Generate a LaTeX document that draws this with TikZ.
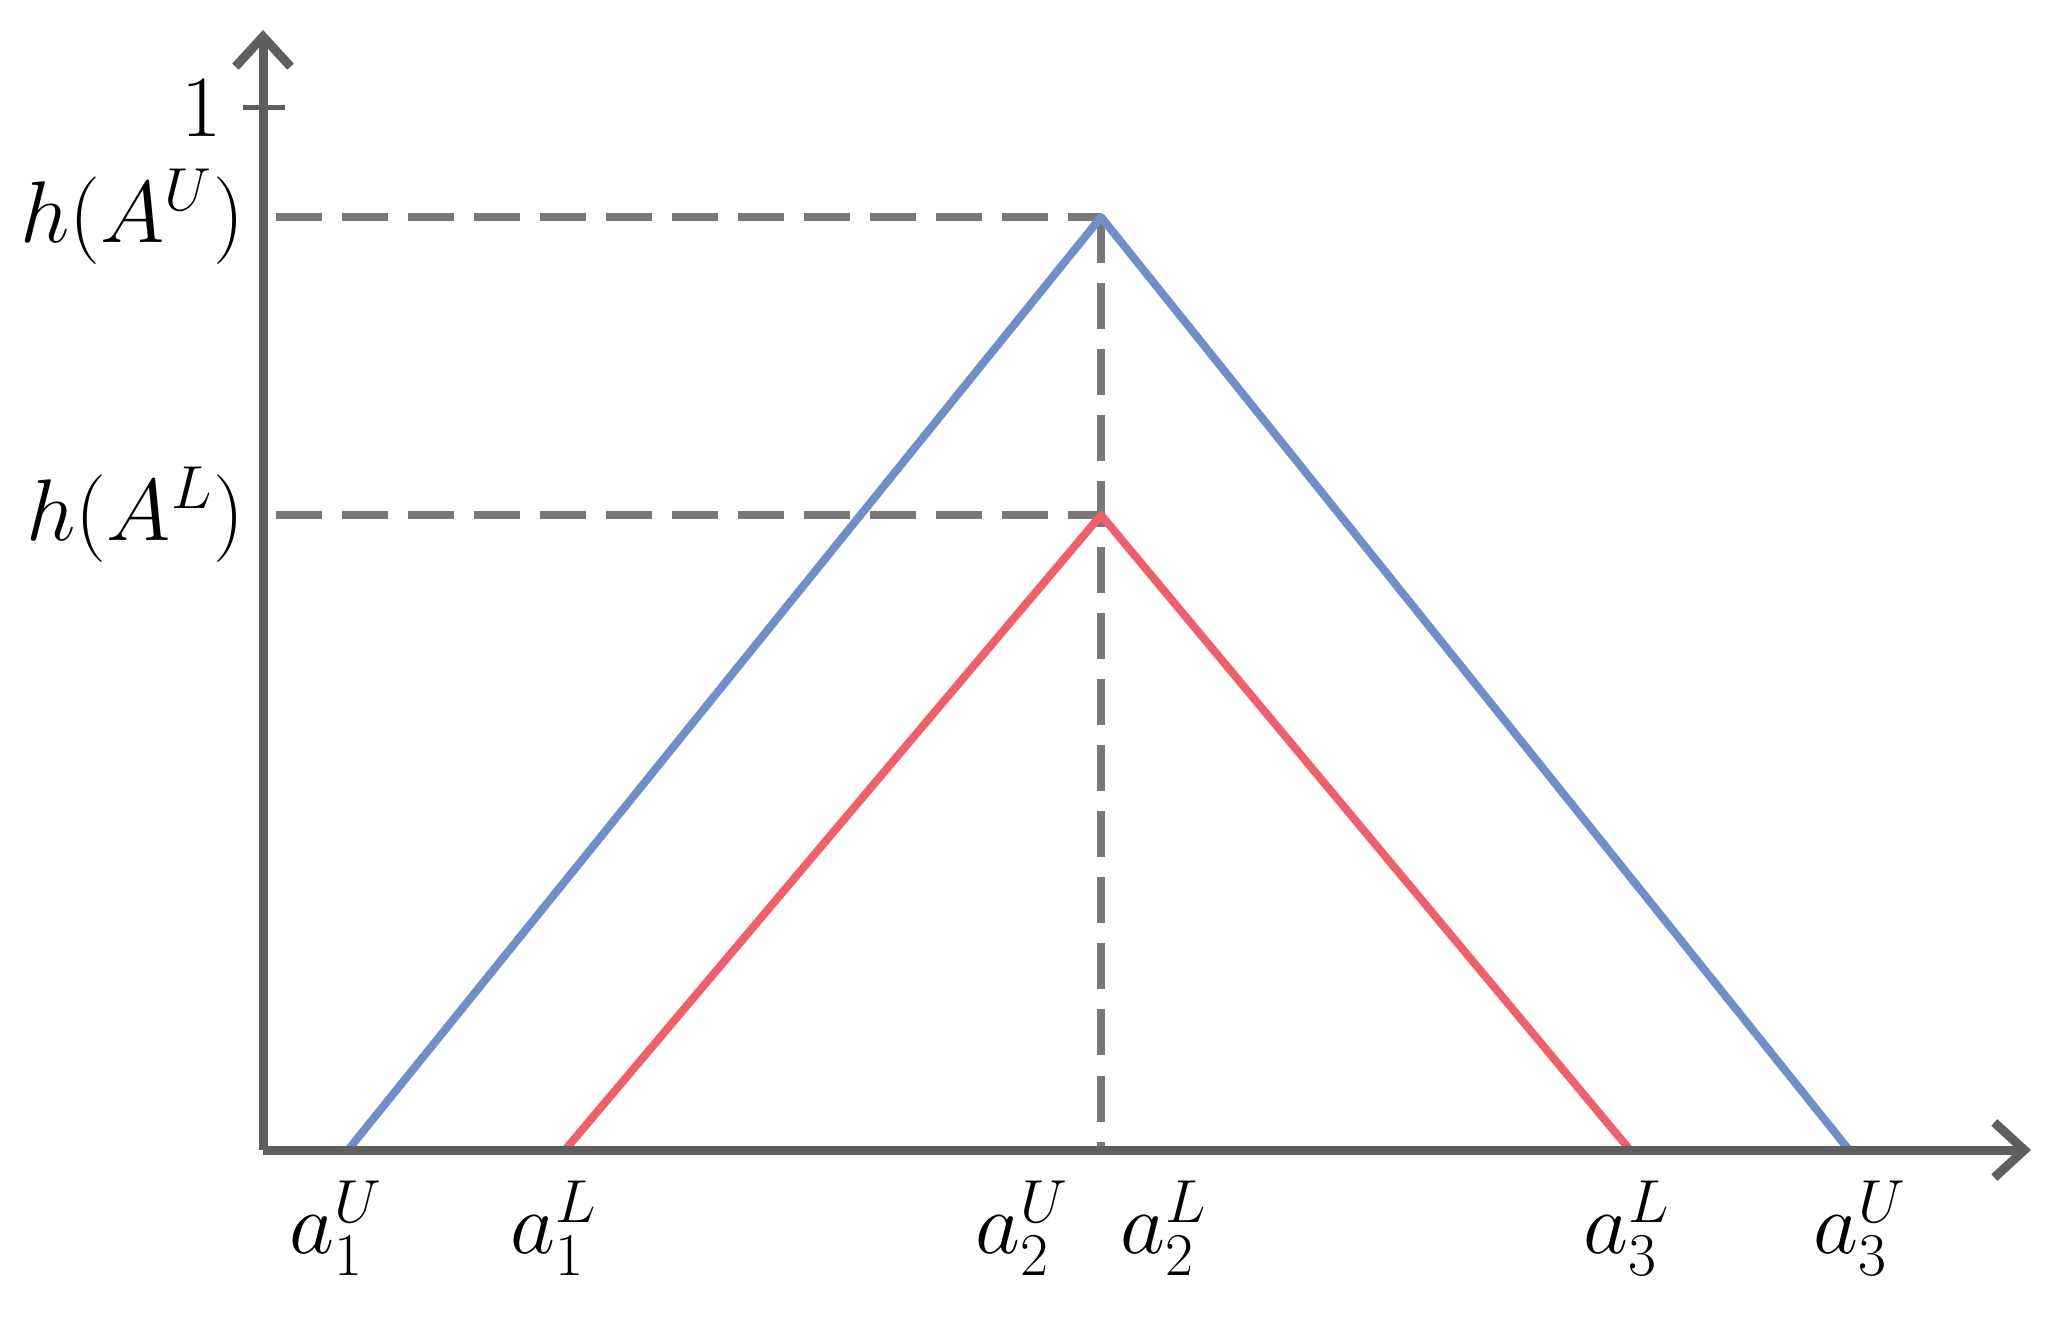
\documentclass[tikz,border=0pt]{standalone}
\usetikzlibrary{arrows.meta}
\definecolor{axisgray}{RGB}{95,95,95}
\definecolor{dashgray}{RGB}{120,120,120}
\definecolor{ublue}{RGB}{112,143,200}
\definecolor{lred}{RGB}{240,96,106}
\begin{document}
\begin{tikzpicture}[x=0.01cm,y=-0.01cm,
  axisline/.style={draw=axisgray,line width=0.09cm,
    -{Straight Barb[length=0.3cm,width=0.55cm,line width=0.09cm]}},
  guide/.style={draw=dashgray,line width=0.08cm,dash pattern=on 0.46cm off 0.2cm},
  upperline/.style={draw=ublue,line width=0.08cm,line join=round},
  lowerline/.style={draw=lred,line width=0.08cm,line join=round},
  lbl/.style={inner sep=0pt,font=\fontsize{23}{28}\selectfont}]
\useasboundingbox (0,0) rectangle (2061,1325);
% key points
\coordinate (O) at (263,1150);
\coordinate (ytop) at (263,30);
\coordinate (xend) at (2031,1150);
\coordinate (hu) at (263,217);
\coordinate (hl) at (263,515);
\coordinate (pu) at (1101,217);
\coordinate (pl) at (1101,515);
\coordinate (p2) at (1101,1150);
\coordinate (u1) at (348,1150);
\coordinate (u3) at (1849,1150);
\coordinate (l1) at (565,1150);
\coordinate (l3) at (1630,1150);
\coordinate (tickL) at (243,108);
\coordinate (tickR) at (285,108);
% guides
\draw[guide] (hu) ++(13,0) -- (pu);
\draw[guide] (hl) ++(13,0) -- (pl);
\draw[guide] (pu) -- (p2);
% triangles
\draw[upperline] (u1) -- (pu) -- (u3);
\draw[lowerline] (l1) -- (pl) -- (l3);
% axes
\draw[axisline] (O) -- (ytop);
\draw[axisline] (O) -- (xend);
\draw[draw=axisgray,line width=0.05cm] (tickL) -- (tickR);
% labels
\node[lbl,anchor=east] (n1) at (222,108) {$1$};
\node[lbl,anchor=east] (nhu) at (245,217) {$h(A^U)$};
\node[lbl,anchor=east] (nhl) at (245,515) {$h(A^L)$};
\node[lbl] (la1u) at (336,1228) {$a_1^U$};
\node[lbl] (la1l) at (554,1228) {$a_1^L$};
\node[lbl] (la2u) at (1022,1228) {$a_2^U$};
\node[lbl] (la2l) at (1164,1228) {$a_2^L$};
\node[lbl] (la3l) at (1627,1228) {$a_3^L$};
\node[lbl] (la3u) at (1860,1228) {$a_3^U$};
\end{tikzpicture}
\end{document}
